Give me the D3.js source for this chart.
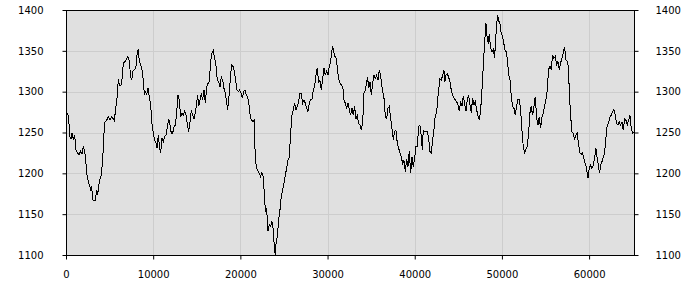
<!DOCTYPE html>
<html>
<head>
<meta charset="utf-8">
<style>
  body { margin: 0; background: #fff; }
  svg text { font-family: "DejaVu Sans", sans-serif; font-size: 10px; fill: #000; }
</style>
</head>
<body>
<svg id="chart" width="700" height="300"></svg>

<script src="https://d3js.org/d3.v7.min.js"></script>
<script>

// values, sample position and level
var sampleX = [
  0, 268, 459, 574, 688, 841, 994, 1147, 1300, 1491, 1682, 1835, 1988, 2141, 2294, 2370, 2523, 2676, 2829, 2944,
  3058, 3211, 3364, 3517, 3632, 3823, 4052, 4205, 4358, 4473, 4664, 4855, 5046, 5237, 5428, 5543, 5734, 5887, 6002, 6116,
  6307, 6460, 6575, 6766, 6957, 7110, 7263, 7416, 7531, 7684, 7875, 8028, 8181, 8296, 8411, 8564, 8717, 8870, 8985, 9138,
  9252, 9405, 9558, 9711, 9864, 10017, 10170, 10323, 10437, 10590, 10743, 10858, 11011, 11164, 11317, 11470, 11623, 11776, 11928, 12081,
  12234, 12387, 12540, 12693, 12846, 12999, 13152, 13305, 13458, 13611, 13764, 13917, 14070, 14223, 14376, 14529, 14682, 14835, 14987, 15102,
  15217, 15370, 15523, 15676, 15829, 15982, 16135, 16288, 16441, 16594, 16747, 16900, 17052, 17205, 17358, 17511, 17664, 17817, 17970, 18123,
  18276, 18391, 18544, 18697, 18850, 19001, 19154, 19307, 19460, 19613, 19766, 19919, 20072, 20225, 20378, 20530, 20683, 20836, 20989, 21142,
  21295, 21448, 21600,
  21636, 21789, 21942, 22171, 22324, 22477, 22630, 22783, 22898, 23012, 23165, 23318, 23471, 23624, 23777, 23892, 24006, 24121, 24236, 24389,
  24542, 24695, 24848, 25000, 25153, 25306, 25459, 25612, 25765, 25918, 26071, 26224, 26377, 26530, 26683, 26835, 26988, 27141, 27294, 27447,
  27600, 27753, 27906, 28059, 28212, 28365, 28517, 28670, 28823, 28976, 29129, 29282, 29435, 29588, 29741, 29894, 30047, 30200, 30353, 30467,
  30582, 30697, 30850, 31003, 31155, 31308, 31461, 31614, 31767, 31882, 32035, 32188, 32341, 32494, 32647, 32800, 32952, 33105, 33258, 33411,
  33564, 33717, 33870, 34023, 34176, 34329, 34482, 34596, 34711, 34864, 35017, 35170, 35323, 35475, 35628, 35781, 35934, 36087, 36240, 36393,
  36508, 36623, 36776, 36929, 37082, 37235, 37388, 37541, 37694, 37846, 37999, 38152, 38305, 38458, 38611, 38764, 38917, 39070, 39223, 39376,
  39529, 39681, 39834, 39987, 40140, 40293, 40446, 40599, 40752, 40866, 40981, 41134, 41287, 41440, 41593, 41745, 41898, 42051, 42204, 42357,
  42510, 42663, 42816,
  42890, 43043, 43196, 43349, 43463, 43578, 43731, 43884, 44037, 44190, 44343, 44496, 44649, 44802, 44955, 45107, 45260, 45413, 45566, 45719,
  45872, 46025, 46178, 46331, 46484, 46637, 46790, 46943, 47096, 47248, 47401, 47554, 47707, 47860, 48013, 48166, 48280, 48433, 48548, 48701,
  48854, 49007, 49160, 49274, 49389, 49504, 49657, 49771, 49886, 50039, 50192, 50345, 50498, 50651, 50765, 50918, 51071, 51224, 51377, 51530,
  51683, 51836, 51989, 52142, 52294, 52447, 52600, 52753, 52906, 53059, 53212, 53365, 53518, 53671, 53824, 53977, 54130, 54283, 54435, 54588,
  54741, 54894, 55047, 55200, 55353, 55506, 55659, 55812, 55965, 56118, 56271, 56424, 56576, 56729, 56882, 57035, 57188, 57341, 57494, 57647,
  57723, 57876, 58029, 58182, 58335, 58488, 58641, 58794, 58947, 59100, 59253, 59406, 59559, 59712, 59865, 60018, 60171, 60324, 60477, 60630,
  60783, 60935, 61088, 61203, 61318, 61471, 61624, 61777, 61930, 62083, 62236, 62389, 62542, 62695, 62848, 63001, 63154, 63307, 63460, 63613,
  63766, 63919, 64072, 64225, 64378, 64531, 64683, 64836, 64989, 65104
]
var level = [
  1276, 1271, 1245, 1242, 1249, 1241, 1247, 1229, 1225, 1223, 1227, 1224, 1233, 1227, 1212, 1200, 1192, 1186, 1180, 1184,
  1168, 1166, 1167, 1180, 1174, 1190, 1198, 1216, 1249, 1263, 1265, 1269, 1265, 1269, 1267, 1265, 1282, 1296, 1316, 1308,
  1308, 1318, 1335, 1337, 1340, 1343, 1337, 1318, 1314, 1325, 1327, 1331, 1349, 1351, 1337, 1333, 1327, 1314, 1296, 1300,
  1296, 1304, 1294, 1284, 1261, 1249, 1241, 1237, 1231, 1247, 1231, 1225, 1243, 1239, 1245, 1247, 1257, 1267, 1259, 1249,
  1249, 1257, 1259, 1274, 1296, 1290, 1269, 1274, 1271, 1276, 1271, 1261, 1251, 1263, 1278, 1271, 1267, 1274, 1286, 1296,
  1282, 1290, 1298, 1290, 1302, 1286, 1306, 1310, 1312, 1337, 1347, 1350, 1341, 1331, 1314, 1312, 1306, 1318, 1314, 1304,
  1298, 1290, 1278, 1294, 1316, 1333, 1331, 1325, 1314, 1302, 1300, 1302, 1298, 1292, 1300, 1302, 1296, 1294, 1284, 1269,
  1265, 1263, 1265,
  1237, 1212, 1204, 1200, 1196, 1201, 1196, 1167, 1153, 1157, 1129, 1137, 1135, 1141, 1131, 1110, 1100, 1118, 1122, 1143,
  1155, 1172, 1180, 1188, 1198, 1206, 1216, 1220, 1249, 1271, 1278, 1286, 1278, 1282, 1288, 1298, 1298, 1286, 1290, 1286,
  1280, 1276, 1286, 1290, 1290, 1302, 1306, 1320, 1329, 1312, 1314, 1302, 1316, 1329, 1320, 1325, 1320, 1331, 1337, 1347,
  1356, 1349, 1343, 1341, 1325, 1314, 1310, 1308, 1304, 1290, 1286, 1280, 1286, 1278, 1271, 1280, 1271, 1282, 1267, 1271,
  1261, 1259, 1253, 1261, 1298, 1302, 1312, 1318, 1304, 1312, 1296, 1310, 1320, 1316, 1320, 1314, 1327, 1320, 1306, 1296,
  1290, 1269, 1267, 1280, 1282, 1267, 1255, 1241, 1251, 1253, 1237, 1231, 1225, 1220, 1212, 1216, 1202, 1218, 1208, 1227,
  1200, 1220, 1208, 1218, 1233, 1233, 1257, 1259, 1245, 1229, 1253, 1251, 1251, 1251, 1243, 1227, 1225, 1241, 1253, 1271,
  1274, 1294, 1308,
  1316, 1314, 1320, 1327, 1312, 1320, 1322, 1318, 1312, 1302, 1296, 1292, 1290, 1288, 1284, 1276, 1288, 1282, 1294, 1286,
  1276, 1290, 1296, 1284, 1274, 1292, 1284, 1288, 1278, 1271, 1265, 1276, 1302, 1331, 1359, 1384, 1369, 1359, 1371, 1353,
  1349, 1352, 1341, 1363, 1380, 1394, 1386, 1384, 1373, 1369, 1361, 1351, 1349, 1337, 1320, 1316, 1294, 1282, 1280, 1271,
  1282, 1290, 1290, 1278, 1253, 1233, 1225, 1229, 1233, 1249, 1274, 1282, 1271, 1282, 1294, 1269, 1259, 1269, 1255, 1269,
  1274, 1282, 1290, 1302, 1327, 1331, 1327, 1345, 1341, 1343, 1333, 1337, 1327, 1335, 1341, 1347, 1355, 1339, 1337, 1329,
  1300, 1271, 1251, 1249, 1241, 1247, 1249, 1235, 1225, 1223, 1225, 1218, 1212, 1206, 1194, 1206, 1210, 1206, 1210, 1218,
  1231, 1218, 1208, 1200, 1210, 1214, 1220, 1225, 1243, 1259, 1261, 1269, 1271, 1276, 1278, 1271, 1261, 1259, 1263, 1259,
  1263, 1253, 1267, 1265, 1259, 1265, 1271, 1255, 1249, 1251
]
var xTicks = [0, 10000, 20000, 30000, 40000, 50000, 60000]
var yTicks = [1100, 1150, 1200, 1250, 1300, 1350, 1400]

// plot box (don't call these top/left, window.top is read only)
var plotL = 66, plotR = 634, plotT = 10, plotB = 255

var svg = d3.select("#chart")

var x = d3.scaleLinear().domain([0, 65150]).range([plotL, plotR])
var y = d3.scaleLinear().domain([1100, 1400]).range([plotB, plotT])

// plot background
svg.append("rect")
   .attr("x", plotL).attr("y", plotT)
   .attr("width", plotR - plotL).attr("height", plotB - plotT)
   .attr("fill", "#e0e0e0")

// grid
svg.append("g").selectAll("line").data(xTicks.slice(1)).enter().append("line")
   .attr("x1", d => Math.round(x(d)) + 0.5).attr("x2", d => Math.round(x(d)) + 0.5)
   .attr("y1", plotT).attr("y2", plotB)
   .attr("stroke", "#cdcdcd")
svg.append("g").selectAll("line").data(yTicks.slice(1, -1)).enter().append("line")
   .attr("x1", plotL).attr("x2", plotR)
   .attr("y1", d => Math.round(y(d)) + 0.5).attr("y2", d => Math.round(y(d)) + 0.5)
   .attr("stroke", "#cdcdcd")

// the series, aliased like the original
var pts = sampleX.map((d, i) => [d, level[i]])
svg.append("path")
   .datum(pts)
   .attr("fill", "none")
   .attr("stroke", "#000")
   .attr("stroke-width", 1)
   .attr("shape-rendering", "crispEdges")
   .attr("d", d3.line().x(d => x(d[0])).y(d => y(d[1])))

// frame
svg.append("rect")
   .attr("x", plotL + 0.5).attr("y", plotT + 0.5)
   .attr("width", plotR - plotL).attr("height", plotB - plotT)
   .attr("fill", "none").attr("stroke", "#000")

// axes
var fmt = d3.format("d")
var ax = svg.append("g").attr("transform", "translate(0," + (plotB + 0.5) + ")")
   .call(d3.axisBottom(x).tickValues(xTicks).tickFormat(fmt).tickSize(4).tickPadding(11))
var ayl = svg.append("g").attr("transform", "translate(" + (plotL + 0.5) + ",0)")
   .call(d3.axisLeft(y).tickValues(yTicks).tickFormat(fmt).tickSize(4).tickPadding(19))
var ayr = svg.append("g").attr("transform", "translate(" + (plotR + 0.5) + ",0)")
   .call(d3.axisRight(y).tickValues(yTicks).tickFormat(fmt).tickSize(4).tickPadding(17))

;[ax, ayl, ayr].forEach(function(g){
  g.select(".domain").remove()
  g.selectAll("line").attr("stroke", "#000")
  g.selectAll("text").attr("font-family", null).attr("font-size", null)
})

</script>
</body>
</html>
